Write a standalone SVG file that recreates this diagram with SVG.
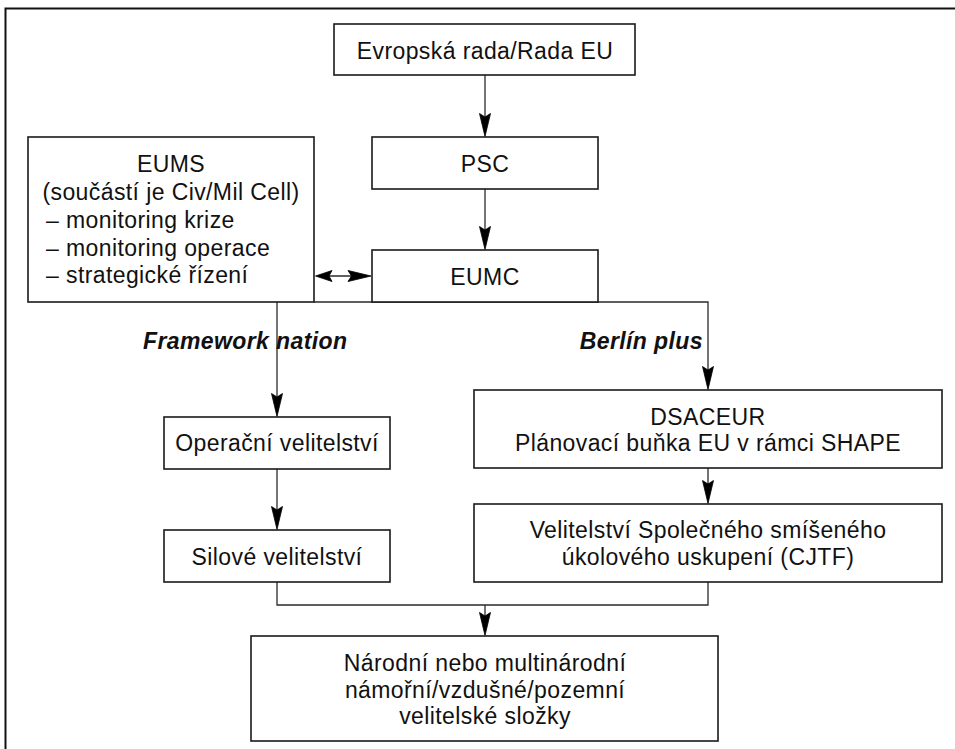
<svg xmlns="http://www.w3.org/2000/svg" xmlns:xlink="http://www.w3.org/1999/xlink" width="955" height="749" viewBox="0 0 955 749">
  <style>
    .box { fill: #ffffff; stroke: #1a1a1a; stroke-width: 1.6; }
    .conn { fill: none; stroke: #2a2a2a; stroke-width: 1.3; }
    .head { fill: #000000; stroke: #000000; stroke-width: 0.8; stroke-linejoin: miter; }
    .t { font-family: "Liberation Sans", Arial, Helvetica, sans-serif; font-size: 23px; fill: #111111; letter-spacing: 0.4px; }
    .c { text-anchor: middle; }
    .lbl { font-family: "Liberation Sans", Arial, Helvetica, sans-serif; font-size: 23px; font-weight: bold; font-style: italic; fill: #111111; letter-spacing: 0.4px; }
  </style>
  <defs>
    <path id="ah" class="head" d="M0,-0.5 L-5.5,-23.5 L0,-20 L5.5,-23.5 Z"/>
    <path id="ahs" class="head" d="M0,-0.5 L-5.5,-17 L0,-14 L5.5,-17 Z"/>
  </defs>

  <rect id="frame" x="5.5" y="8.5" width="1000" height="1000" fill="none" stroke="#111111" stroke-width="2"/>

  <g id="connectors">
    <path class="conn" d="M485,75 V130"/>
    <use href="#ah" xlink:href="#ah" transform="translate(485,137)"/>
    <path class="conn" d="M485,189 V243"/>
    <use href="#ah" xlink:href="#ah" transform="translate(485,250)"/>
    <path class="conn" d="M320,276 H366"/>
    <use href="#ahs" xlink:href="#ahs" transform="translate(315,276) rotate(90)"/>
    <use href="#ah" xlink:href="#ah" transform="translate(371.5,276) rotate(-90)"/>
    <path class="conn" d="M314,302 H708 V384"/>
    <use href="#ah" xlink:href="#ah" transform="translate(708,390)"/>
    <path class="conn" d="M277,302 V411"/>
    <use href="#ah" xlink:href="#ah" transform="translate(277,417)"/>
    <path class="conn" d="M277,469 V524"/>
    <use href="#ah" xlink:href="#ah" transform="translate(277,530)"/>
    <path class="conn" d="M708,468 V498"/>
    <use href="#ah" xlink:href="#ah" transform="translate(708,504)"/>
    <path class="conn" d="M277,582 V605 H708 V582"/>
    <path class="conn" d="M485,605 V630"/>
    <use href="#ah" xlink:href="#ah" transform="translate(485,636)"/>
  </g>

  <g id="labels">
    <text class="lbl" x="143" y="348.5">Framework nation</text>
    <text class="lbl" x="703" y="348.5" text-anchor="end">Berlín plus</text>
  </g>

  <g id="n-evropska">
    <rect class="box" x="334" y="24" width="301" height="51"/>
    <text class="t c" x="485" y="58.5">Evropská rada/Rada EU</text>
  </g>

  <g id="n-psc">
    <rect class="box" x="372" y="137" width="226" height="52"/>
    <text class="t c" x="485" y="171.7">PSC</text>
  </g>

  <g id="n-eums">
    <rect class="box" x="28" y="137" width="286" height="165"/>
    <text class="t c" x="171" y="171.7">EUMS</text>
    <text class="t c" x="171" y="199.5">(součástí je Civ/Mil Cell)</text>
    <text class="t" x="46" y="227.5">– monitoring krize</text>
    <text class="t" x="46" y="255.5">– monitoring operace</text>
    <text class="t" x="46" y="283.3">– strategické řízení</text>
  </g>

  <g id="n-eumc">
    <rect class="box" x="372" y="250" width="226" height="52"/>
    <text class="t c" x="485" y="285">EUMC</text>
  </g>

  <g id="n-operacni">
    <rect class="box" x="164" y="417" width="226" height="52"/>
    <text class="t c" x="277" y="451">Operační velitelství</text>
  </g>

  <g id="n-silove">
    <rect class="box" x="164" y="530" width="226" height="52"/>
    <text class="t c" x="277" y="564.5">Silové velitelství</text>
  </g>

  <g id="n-dsaceur">
    <rect class="box" x="474" y="390" width="468" height="78"/>
    <text class="t c" x="708" y="424.5">DSACEUR</text>
    <text class="t c" x="708" y="451">Plánovací buňka EU v rámci SHAPE</text>
  </g>

  <g id="n-cjtf">
    <rect class="box" x="474" y="504" width="468" height="78"/>
    <text class="t c" x="708" y="537.7">Velitelství Společného smíšeného</text>
    <text class="t c" x="708" y="564.7">úkolového uskupení (CJTF)</text>
  </g>

  <g id="n-narodni">
    <rect class="box" x="251" y="636" width="467" height="105"/>
    <text class="t c" x="485" y="671">Národní nebo multinárodní</text>
    <text class="t c" x="485" y="697.5">námořní/vzdušné/pozemní</text>
    <text class="t c" x="485" y="724">velitelské složky</text>
  </g>
</svg>
